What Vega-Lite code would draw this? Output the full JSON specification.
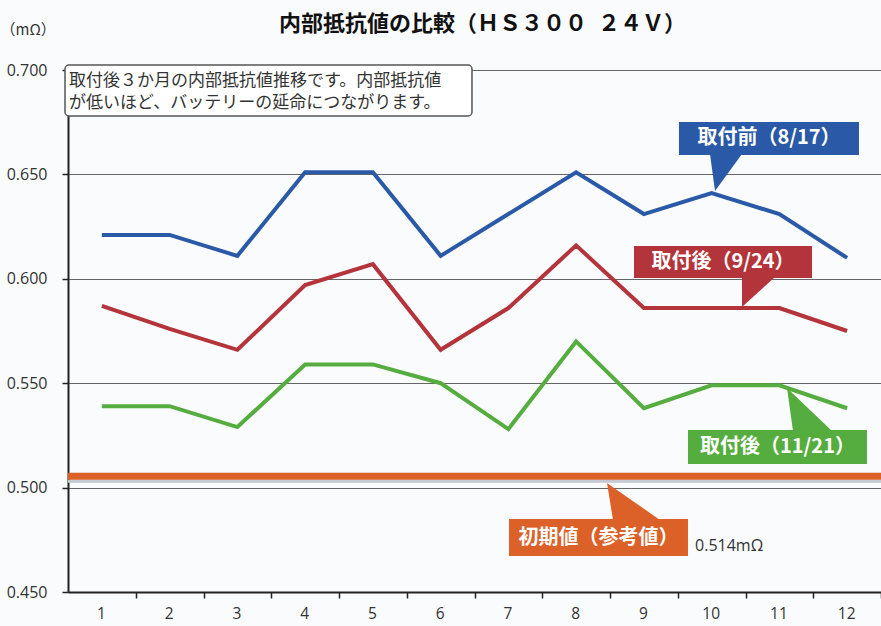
{
  "$schema": "https://vega.github.io/schema/vega-lite/v6.json",
  "width": 813,
  "height": 522,
  "autosize": {"type": "none"},
  "padding": {"left": 68, "top": 70, "right": 0, "bottom": 34},
  "background": "#fafbfd",
  "config": {"view": {"stroke": null}, "font": "Noto Sans CJK JP"},
  "title": {
    "text": "内部抵抗値の比較（ＨＳ３００\u2002２４Ｖ）",
    "font": "Noto Sans CJK JP",
    "fontSize": 22,
    "fontWeight": "bold",
    "color": "#111111",
    "anchor": "middle",
    "frame": "group",
    "dx": 8,
    "offset": -14
  },
  "datasets": {
    "series": [
      {"series": "取付前(8/17)", "x": 1, "v": 0.621},
      {"series": "取付前(8/17)", "x": 2, "v": 0.621},
      {"series": "取付前(8/17)", "x": 3, "v": 0.611},
      {"series": "取付前(8/17)", "x": 4, "v": 0.651},
      {"series": "取付前(8/17)", "x": 5, "v": 0.651},
      {"series": "取付前(8/17)", "x": 6, "v": 0.611},
      {"series": "取付前(8/17)", "x": 7, "v": 0.631},
      {"series": "取付前(8/17)", "x": 8, "v": 0.651},
      {"series": "取付前(8/17)", "x": 9, "v": 0.631},
      {"series": "取付前(8/17)", "x": 10, "v": 0.641},
      {"series": "取付前(8/17)", "x": 11, "v": 0.631},
      {"series": "取付前(8/17)", "x": 12, "v": 0.610},
      {"series": "取付後(9/24)", "x": 1, "v": 0.587},
      {"series": "取付後(9/24)", "x": 2, "v": 0.576},
      {"series": "取付後(9/24)", "x": 3, "v": 0.566},
      {"series": "取付後(9/24)", "x": 4, "v": 0.597},
      {"series": "取付後(9/24)", "x": 5, "v": 0.607},
      {"series": "取付後(9/24)", "x": 6, "v": 0.566},
      {"series": "取付後(9/24)", "x": 7, "v": 0.586},
      {"series": "取付後(9/24)", "x": 8, "v": 0.616},
      {"series": "取付後(9/24)", "x": 9, "v": 0.586},
      {"series": "取付後(9/24)", "x": 10, "v": 0.586},
      {"series": "取付後(9/24)", "x": 11, "v": 0.586},
      {"series": "取付後(9/24)", "x": 12, "v": 0.575},
      {"series": "取付後(11/21)", "x": 1, "v": 0.539},
      {"series": "取付後(11/21)", "x": 2, "v": 0.539},
      {"series": "取付後(11/21)", "x": 3, "v": 0.529},
      {"series": "取付後(11/21)", "x": 4, "v": 0.559},
      {"series": "取付後(11/21)", "x": 5, "v": 0.559},
      {"series": "取付後(11/21)", "x": 6, "v": 0.550},
      {"series": "取付後(11/21)", "x": 7, "v": 0.528},
      {"series": "取付後(11/21)", "x": 8, "v": 0.570},
      {"series": "取付後(11/21)", "x": 9, "v": 0.538},
      {"series": "取付後(11/21)", "x": 10, "v": 0.549},
      {"series": "取付後(11/21)", "x": 11, "v": 0.549},
      {"series": "取付後(11/21)", "x": 12, "v": 0.538}
    ],
    "baseline": [{"series": "初期値(参考値)", "v": 0.5054}],
    "boxes": [
      {"series": "取付前(8/17)", "x": 9.518, "x2": 12.175, "y": 0.6751, "y2": 0.6593, "tx": 10.847, "ty": 0.6672, "text": "取付前（8/17）"},
      {"series": "取付後(9/24)", "x": 8.854, "x2": 11.482, "y": 0.6157, "y2": 0.6004, "tx": 10.168, "ty": 0.6080, "text": "取付後（9/24）"},
      {"series": "取付後(11/21)", "x": 9.651, "x2": 12.293, "y": 0.5276, "y2": 0.5113, "tx": 10.972, "ty": 0.5194, "text": "取付後（11/21）"},
      {"series": "初期値(参考値)", "x": 7.009, "x2": 9.651, "y": 0.4850, "y2": 0.4672, "tx": 8.330, "ty": 0.4761, "text": "初期値（参考値）"}
    ],
    "pointers": [
      {"series": "取付前(8/17)", "id": "p1", "x": 9.976, "y": 0.6598, "y2": 0.6598},
      {"series": "取付前(8/17)", "id": "p1", "x": 10.05, "y": 0.6598, "y2": 0.6420},
      {"series": "取付前(8/17)", "id": "p1", "x": 10.448, "y": 0.6598, "y2": 0.6598},
      {"series": "取付後(9/24)", "id": "p2", "x": 10.448, "y": 0.6009, "y2": 0.5865},
      {"series": "取付後(9/24)", "id": "p2", "x": 10.935, "y": 0.6009, "y2": 0.6009},
      {"series": "取付後(11/21)", "id": "p3", "x": 11.113, "y": 0.5477, "y2": 0.5477},
      {"series": "取付後(11/21)", "id": "p3", "x": 11.201, "y": 0.5450, "y2": 0.5271},
      {"series": "取付後(11/21)", "id": "p3", "x": 11.777, "y": 0.5271, "y2": 0.5271},
      {"series": "初期値(参考値)", "id": "p4", "x": 8.456, "y": 0.5022, "y2": 0.5022},
      {"series": "初期値(参考値)", "id": "p4", "x": 8.544, "y": 0.5002, "y2": 0.4845},
      {"series": "初期値(参考値)", "id": "p4", "x": 9.238, "y": 0.4845, "y2": 0.4845}
    ],
    "note": [{"x": 0.456, "x2": 6.463, "y": 0.7024, "y2": 0.678}],
    "notetext": [
      {"x": 0.515, "y": 0.6945, "text": ["取付後３か月の内部抵抗値推移です。内部抵抗値", "が低いほど、バッテリーの延命につながります。"]}
    ],
    "value": [{"x": 9.755, "y": 0.4720, "text": "0.514mΩ"}]
  },
  "layer": [
    {
      "data": {"name": "series"},
      "mark": {"type": "line", "strokeWidth": 4, "strokeJoin": "miter"},
      "encoding": {
        "x": {
          "field": "x", "type": "quantitative",
          "scale": {"domain": [0.5, 12.5], "nice": false, "zero": false},
          "axis": {
            "title": null,
            "values": [1, 2, 3, 4, 5, 6, 7, 8, 9, 10, 11, 12],
            "format": "d",
            "grid": false,
            "domainColor": "#222222",
            "domainWidth": 2,
            "tickColor": "#222222",
            "tickWidth": 1.5,
            "tickSize": 6,
            "tickOffset": 34,
            "labelOffset": -35,
            "labelPadding": 8,
            "labelFont": "Open Sans",
            "labelFontSize": 15.5,
            "labelColor": "#333333"
          }
        },
        "y": {
          "field": "v", "type": "quantitative",
          "scale": {"domain": [0.45, 0.70], "nice": false, "zero": false},
          "axis": {
            "title": "（mΩ）",
            "titleAngle": 0,
            "titleX": -68,
            "titleY": -41,
            "titleAlign": "left",
            "titleBaseline": "middle",
            "titleFont": "Noto Sans CJK JP",
            "titleFontSize": 15,
            "titleFontWeight": "normal",
            "titleColor": "#333333",
            "values": [0.45, 0.5, 0.55, 0.6, 0.65, 0.7],
            "format": ".3f",
            "grid": true,
            "gridColor": "#666666",
            "gridWidth": 1.2,
            "domainColor": "#222222",
            "domainWidth": 2,
            "tickColor": "#222222",
            "tickWidth": 1.5,
            "tickSize": 6,
            "labelPadding": 15,
            "labelFont": "Open Sans",
            "labelFontSize": 16,
            "labelColor": "#333333"
          }
        },
        "color": {
          "field": "series", "type": "nominal",
          "scale": {
            "domain": ["取付前(8/17)", "取付後(9/24)", "取付後(11/21)", "初期値(参考値)"],
            "range": ["#2a5aa7", "#b3343a", "#56ad3f", "#db6129"]
          },
          "legend": null
        }
      }
    },
    {
      "data": {"name": "baseline"},
      "mark": {"type": "rule", "strokeWidth": 3, "color": "#c4c8d0", "yOffset": 5},
      "encoding": {"y": {"field": "v", "type": "quantitative"}}
    },
    {
      "data": {"name": "baseline"},
      "mark": {"type": "rule", "strokeWidth": 7},
      "encoding": {
        "y": {"field": "v", "type": "quantitative"},
        "color": {"field": "series", "type": "nominal", "legend": null}
      }
    },
    {
      "data": {"name": "note"},
      "mark": {"type": "rect", "fill": "#ffffff", "stroke": "#555555", "strokeWidth": 1.5, "cornerRadius": 4},
      "encoding": {
        "x": {"field": "x", "type": "quantitative"},
        "x2": {"field": "x2"},
        "y": {"field": "y", "type": "quantitative"},
        "y2": {"field": "y2"}
      }
    },
    {
      "data": {"name": "notetext"},
      "mark": {"type": "text", "align": "left", "baseline": "middle", "fontSize": 17, "lineHeight": 22, "color": "#333333", "font": "Noto Sans CJK JP"},
      "encoding": {
        "x": {"field": "x", "type": "quantitative"},
        "y": {"field": "y", "type": "quantitative"},
        "text": {"field": "text"}
      }
    },
    {
      "data": {"name": "boxes"},
      "mark": {"type": "rect"},
      "encoding": {
        "x": {"field": "x", "type": "quantitative"},
        "x2": {"field": "x2"},
        "y": {"field": "y", "type": "quantitative"},
        "y2": {"field": "y2"},
        "color": {"field": "series", "type": "nominal", "legend": null}
      }
    },
    {
      "data": {"name": "pointers"},
      "mark": {"type": "area", "opacity": 1},
      "encoding": {
        "x": {"field": "x", "type": "quantitative"},
        "y": {"field": "y", "type": "quantitative"},
        "y2": {"field": "y2"},
        "detail": {"field": "id"},
        "color": {"field": "series", "type": "nominal", "legend": null}
      }
    },
    {
      "data": {"name": "boxes"},
      "mark": {"type": "text", "align": "center", "baseline": "middle", "fontSize": 20, "fontWeight": "bold", "color": "#ffffff", "font": "Noto Sans CJK JP"},
      "encoding": {
        "x": {"field": "tx", "type": "quantitative"},
        "y": {"field": "ty", "type": "quantitative"},
        "text": {"field": "text"}
      }
    },
    {
      "data": {"name": "value"},
      "mark": {"type": "text", "align": "left", "baseline": "middle", "fontSize": 16, "color": "#333333", "font": "Open Sans"},
      "encoding": {
        "x": {"field": "x", "type": "quantitative"},
        "y": {"field": "y", "type": "quantitative"},
        "text": {"field": "text"}
      }
    }
  ]
}
